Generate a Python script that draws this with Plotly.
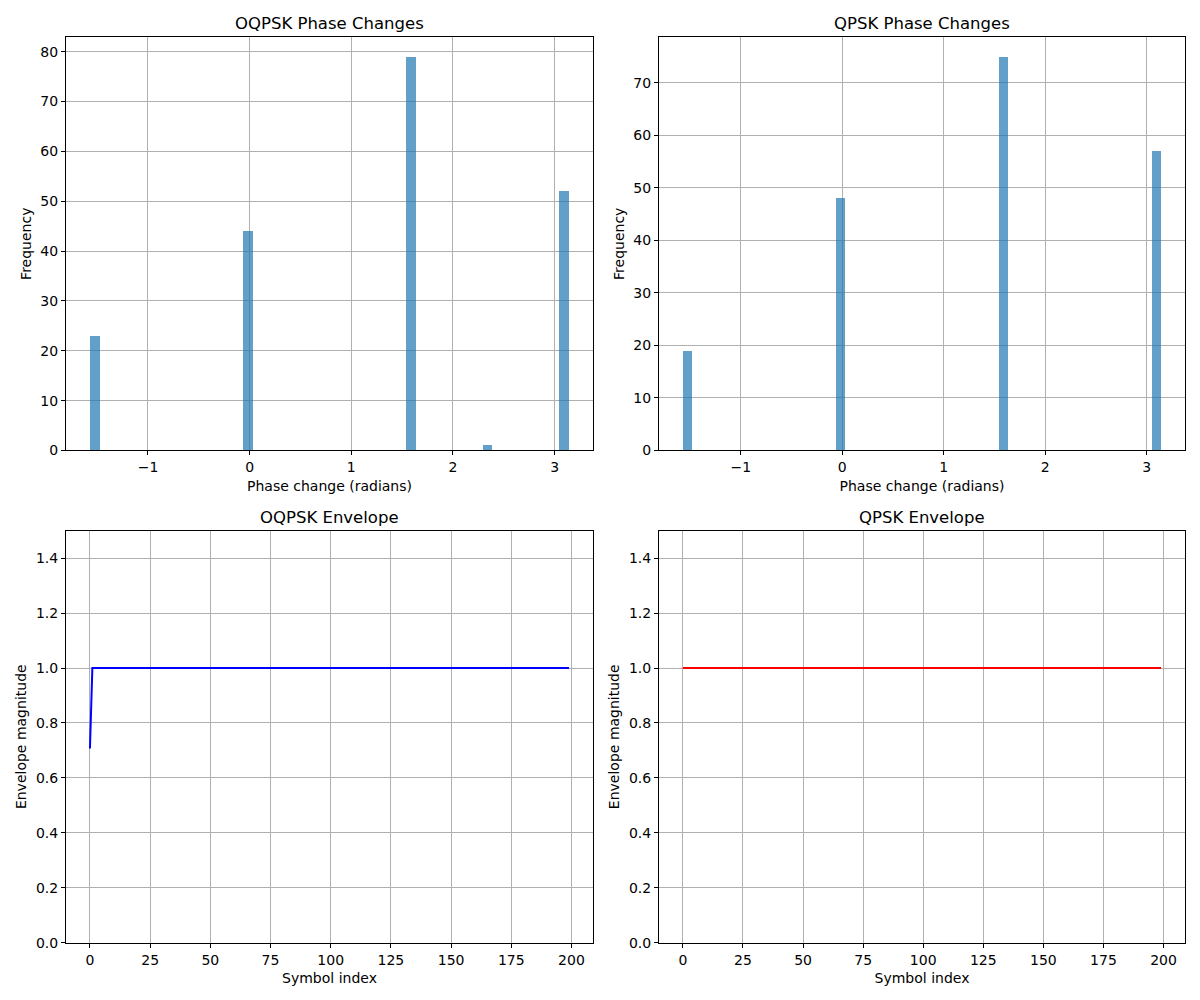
import numpy as np
import plotly.graph_objects as go

# ---- data ----
oqpsk_phase = [-1.5237, -0.0157, 1.5865, 2.3402, 3.0945]
oqpsk_counts = [23, 44, 79, 1, 52]
qpsk_phase = [-1.5237, -0.0157, 1.5865, 3.0945]
qpsk_counts = [19, 48, 75, 57]
symbol_index = list(range(200))
oqpsk_env = [0.7071] + [1.0] * 199
qpsk_env = [1.0] * 200

bin_width = 3 * np.pi / 100

FONT = "DejaVu Sans"
fig = go.Figure()

bar_color = "rgba(31,119,180,0.7)"
fig.add_trace(go.Bar(x=oqpsk_phase, y=oqpsk_counts, width=bin_width, marker=dict(color=bar_color, line=dict(width=0)),
                     xaxis="x", yaxis="y", showlegend=False))
fig.add_trace(go.Bar(x=qpsk_phase, y=qpsk_counts, width=bin_width, marker=dict(color=bar_color, line=dict(width=0)),
                     xaxis="x2", yaxis="y2", showlegend=False))
fig.add_trace(go.Scatter(x=symbol_index, y=oqpsk_env, mode="lines", line=dict(color="blue", width=2),
                         xaxis="x3", yaxis="y3", showlegend=False))
fig.add_trace(go.Scatter(x=symbol_index, y=qpsk_env, mode="lines", line=dict(color="red", width=2),
                         xaxis="x4", yaxis="y4", showlegend=False))

W, H = 1200, 1000
HC = 991.0
xd_l = [66 / W, 593 / W]
xd_r = [659 / W, 1185 / W]
yd_t = [1 - 450 / HC, 1 - 37 / HC]
yd_b = [1 - 942 / HC, 1 - 530 / HC]

common = dict(showline=True, mirror=True, linecolor="black", linewidth=1,
              showgrid=True, gridcolor="#b0b0b0", gridwidth=1,
              ticks="outside", ticklen=4, tickcolor="black", zeroline=False,
              tickfont=dict(family=FONT, size=14, color="black"))

hist_x_range = [-np.pi / 2 - 0.2356, np.pi + 0.2356]
env_x_range = [-9.95, 208.95]

def at(text, so):
    return dict(text=text, font=dict(family=FONT, size=14, color="black"), standoff=so)

fig.update_layout(
    width=W, height=H, margin=dict(l=0, r=0, t=0, b=0),
    plot_bgcolor="white", paper_bgcolor="white", bargap=0,
    xaxis=dict(domain=xd_l, anchor="y", range=hist_x_range, dtick=1, title=at("Phase change (radians)", 6), **common),
    yaxis=dict(domain=yd_t, anchor="x", range=[0, 82.95], dtick=10, title=at("Frequency", 5), **common),
    xaxis2=dict(domain=xd_r, anchor="y2", range=hist_x_range, dtick=1, title=at("Phase change (radians)", 6), **common),
    yaxis2=dict(domain=yd_t, anchor="x2", range=[0, 78.75], dtick=10, title=at("Frequency", 5), **common),
    xaxis3=dict(domain=xd_l, anchor="y3", range=env_x_range, tick0=0, dtick=25, title=at("Symbol index", 6), **common),
    yaxis3=dict(domain=yd_b, anchor="x3", range=[0, 1.5], dtick=0.2, tickformat=".1f", title=at("Envelope magnitude", 6), **common),
    xaxis4=dict(domain=xd_r, anchor="y4", range=env_x_range, tick0=0, dtick=25, title=at("Symbol index", 6), **common),
    yaxis4=dict(domain=yd_b, anchor="x4", range=[0, 1.5], dtick=0.2, tickformat=".1f", title=at("Envelope magnitude", 6), **common),
)

titles = [("OQPSK Phase Changes", (xd_l[0] + xd_l[1]) / 2, yd_t[1]),
          ("QPSK Phase Changes", (xd_r[0] + xd_r[1]) / 2, yd_t[1]),
          ("OQPSK Envelope", (xd_l[0] + xd_l[1]) / 2, yd_b[1]),
          ("QPSK Envelope", (xd_r[0] + xd_r[1]) / 2, yd_b[1])]
for text, x, y in titles:
    fig.add_annotation(text=text, x=x, y=y, xref="paper", yref="paper", xanchor="center", yanchor="bottom",
                       yshift=2, showarrow=False, font=dict(family=FONT, size=16.5, color="black"))

fig.write_html("out.html")
